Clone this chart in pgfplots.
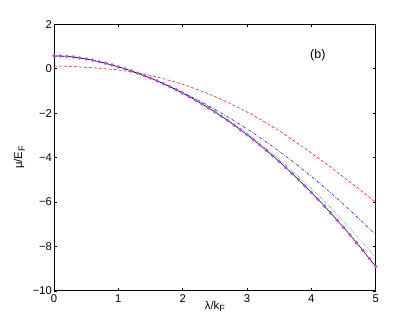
\documentclass[border=0pt]{standalone}
\usepackage{pgfplots}
\pgfplotsset{compat=1.18}
\usepackage{pgfplotstable}
\usepackage{fontspec}
\setmainfont{Liberation Sans}
\definecolor{mpurple}{RGB}{185,80,245}
\definecolor{mgreen}{RGB}{0,175,0}

% lambda/kF vs mu/EF, black curve sampled every 0.1 (also used for the markers)
\pgfplotstableread{
l mu
0.0 0.580
0.1 0.574
0.2 0.556
0.3 0.526
0.4 0.486
0.5 0.438
0.6 0.381
0.7 0.317
0.8 0.246
0.9 0.168
1.0 0.085
1.1 -0.005
1.2 -0.100
1.3 -0.202
1.4 -0.311
1.5 -0.426
1.6 -0.547
1.7 -0.675
1.8 -0.810
1.9 -0.952
2.0 -1.100
2.1 -1.256
2.2 -1.418
2.3 -1.588
2.4 -1.764
2.5 -1.948
2.6 -2.139
2.7 -2.337
2.8 -2.543
2.9 -2.755
3.0 -2.975
3.1 -3.202
3.2 -3.437
3.3 -3.678
3.4 -3.927
3.5 -4.184
3.6 -4.447
3.7 -4.718
3.8 -4.997
3.9 -5.282
4.0 -5.575
4.1 -5.876
4.2 -6.183
4.3 -6.499
4.4 -6.821
4.5 -7.151
4.6 -7.488
4.7 -7.833
4.8 -8.184
4.9 -8.544
5.0 -8.910
}\blackdata

\pgfplotstableread{
l mu
0.00 0.590
0.25 0.550
0.50 0.445
0.75 0.285
1.00 0.085
1.25 -0.151
1.50 -0.426
1.75 -0.742
2.00 -1.100
2.25 -1.499
2.50 -1.937
2.75 -2.414
3.00 -2.931
3.25 -3.488
3.50 -4.084
3.75 -4.721
4.00 -5.397
4.25 -6.115
4.50 -6.873
4.75 -7.672
5.00 -8.510
}\greendata

\pgfplotstableread{
l mu
0.00 0.560
0.25 0.530
0.50 0.430
0.75 0.276
1.00 0.080
1.25 -0.155
1.50 -0.426
1.75 -0.735
2.00 -1.071
2.25 -1.437
2.50 -1.832
2.75 -2.258
3.00 -2.714
3.25 -3.202
3.50 -3.720
3.75 -4.270
4.00 -4.851
4.25 -5.464
4.50 -6.108
4.75 -6.784
5.00 -7.490
}\bluedata

\pgfplotstableread{
l mu
0.00 0.120
0.25 0.105
0.50 0.060
0.75 0.010
1.00 -0.060
1.25 -0.170
1.50 -0.300
1.75 -0.490
2.00 -0.700
2.25 -0.965
2.50 -1.250
2.75 -1.590
3.00 -1.950
3.25 -2.360
3.50 -2.800
3.75 -3.290
4.00 -3.800
4.25 -4.330
4.50 -4.880
4.75 -5.440
5.00 -6.020
}\reddata

\begin{document}
\begin{tikzpicture}[font=\fontsize{11.3}{13}\selectfont]
\useasboundingbox (-54bp,-36.3bp) rectangle (361bp,290.7bp);
\begin{axis}[
    at={(0,0)}, anchor=south west,
    scale only axis,
    width=321.7bp, height=266.4bp,
    xmin=0, xmax=5, ymin=-10, ymax=2,
    xtick={0,1,2,3,4,5},
    xticklabels={0,1,2,3,4,5},
    ytick={-10,-8,-6,-4,-2,0,2},
    yticklabels={−10,−8,−6,−4,−2,0,2},
    tick align=inside,
    major tick length=3bp,
    tick style={black, line width=0.4pt},
    axis line style={black, line width=0.5pt},
    tick label style={font=\fontsize{11.3}{13}\selectfont},
    label style={font=\fontsize{11.3}{13}\selectfont},
    xticklabel style={yshift=-0.5bp},
    yticklabel style={xshift=1.5bp},
    xlabel={λ/k\raisebox{-0.45ex}{\small F}},
    ylabel={μ/E\raisebox{-0.45ex}{\small F}},
    xlabel style={at={(axis description cs:0.5,-0.0375)}, anchor=north, inner sep=0pt},
    ylabel style={at={(axis description cs:-0.0901,0.5)}, anchor=south, inner sep=0pt},
    every axis plot/.append style={line width=0.5pt},
]
\addplot[red, dash pattern=on 3pt off 2pt, smooth] table[x=l, y=mu] {\reddata};
\addplot[blue, dash pattern=on 3pt off 1.5pt on 0.6pt off 1.5pt, smooth] table[x=l, y=mu] {\bluedata};
\addplot[mgreen, dash pattern=on 0.6pt off 1.2pt, smooth] table[x=l, y=mu] {\greendata};
\addplot[black, smooth] table[x=l, y=mu] {\blackdata};
\addplot[only marks, mark=*, mark size=1.5pt, mpurple, mark options={draw=mpurple, fill=mpurple}] table[x=l, y=mu] {\blackdata};
\node[font=\fontsize{12.5}{14}\selectfont] at (axis cs:4.1,0.62) {(b)};
\end{axis}
\end{tikzpicture}
\end{document}
